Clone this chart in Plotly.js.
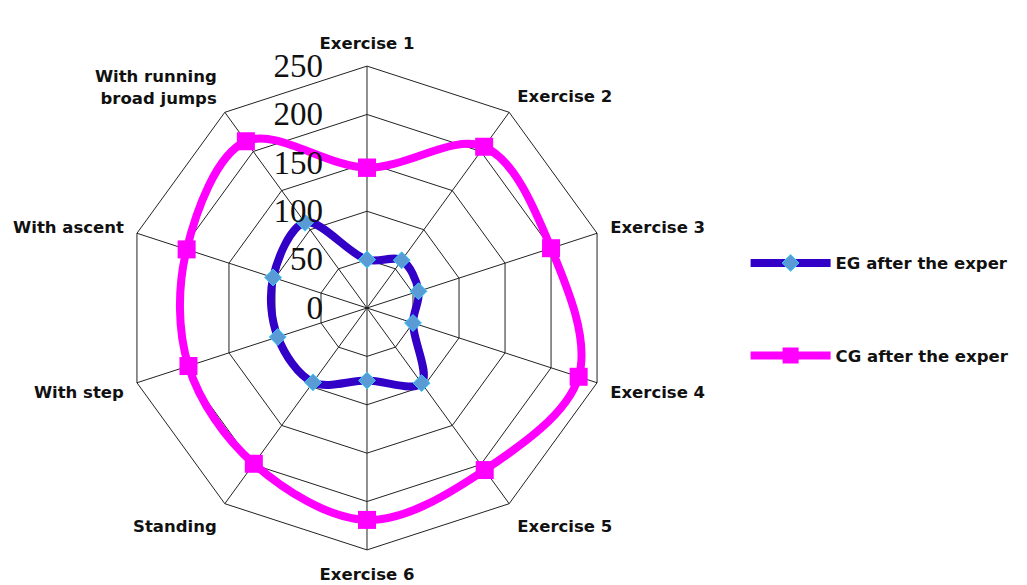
<!DOCTYPE html>
<html>
<head>
<meta charset="utf-8">
<script src="https://cdn.plot.ly/plotly-3.0.1.min.js"></script>
<style>html,body{margin:0;padding:0;background:#fff;}#chart{width:1027px;height:585px;}</style>
</head>
<body>
<div id="chart"></div>
<script>
const categories = ["Exercise 1","Exercise 2","Exercise 3","Exercise 4","Exercise 5","Exercise 6","Standing","With step","With ascent","With running<br>broad jumps"];
const egValues = [50, 61, 56, 50, 96, 75, 95, 97, 102, 109];
const cgValues = [145, 206, 200, 230, 207, 219, 199, 194, 196, 213];
const radialTicks = [0, 50, 100, 150, 200, 250];
const seriesNames = ["EG after the exper", "CG after the exper"];

const close = a => a.concat([a[0]]);

const traces = [
  {
    type: 'scatterpolar', mode: 'lines+markers', name: seriesNames[0],
    r: close(egValues), theta: close(categories),
    line: {color: '#3300C8', width: 8, shape: 'spline', smoothing: 1},
    marker: {symbol: 'diamond', size: 13, color: '#5B9BD5', line: {color: '#33CCFF', width: 1}},
    legendgroup: 'a'
  },
  {
    type: 'scatterpolar', mode: 'lines+markers', name: seriesNames[1],
    r: close(cgValues), theta: close(categories),
    line: {color: '#FF00FF', width: 8, shape: 'spline', smoothing: 1},
    marker: {symbol: 'square', size: 18, color: '#FF00FF'},
    legendgroup: 'b'
  }
];

const labelFont = {family: 'DejaVu Sans, Verdana, sans-serif', size: 16.5, color: '#111', weight: 'bold'};

const layout = {
  width: 1027, height: 585,
  margin: {l: 0, r: 0, t: 0, b: 0},
  paper_bgcolor: '#fff', plot_bgcolor: '#fff',
  showlegend: true,
  legend: {
    x: 0.726, y: 0.58, xanchor: 'left', yanchor: 'top',
    font: labelFont,
    tracegroupgap: 68, itemwidth: 80, bgcolor: 'rgba(0,0,0,0)'
  },
  polar: {
    domain: {x: [0.1217, 0.593], y: [0.06, 0.887]},
    gridshape: 'linear',
    bgcolor: '#fff',
    angularaxis: {
      direction: 'clockwise', rotation: 90,
      showline: true, linecolor: '#222', linewidth: 1,
      showgrid: true, gridcolor: '#222', gridwidth: 1,
      ticks: 'outside', ticklen: 10, tickcolor: 'rgba(0,0,0,0)',
      tickfont: labelFont
    },
    radialaxis: {
      range: [0, 250], tickvals: radialTicks, ticktext: radialTicks.map(String),
      angle: 90, tickangle: 90, side: 'counterclockwise',
      showline: false, showgrid: true, gridcolor: '#222', gridwidth: 1,
      ticks: 'outside', ticklen: 32, tickcolor: 'rgba(0,0,0,0)',
      tickfont: {family: 'Liberation Serif, Times New Roman, serif', size: 33, color: '#111'}
    }
  }
};

Plotly.newPlot('chart', traces, layout, {displayModeBar: false, staticPlot: true});
</script>
</body>
</html>
